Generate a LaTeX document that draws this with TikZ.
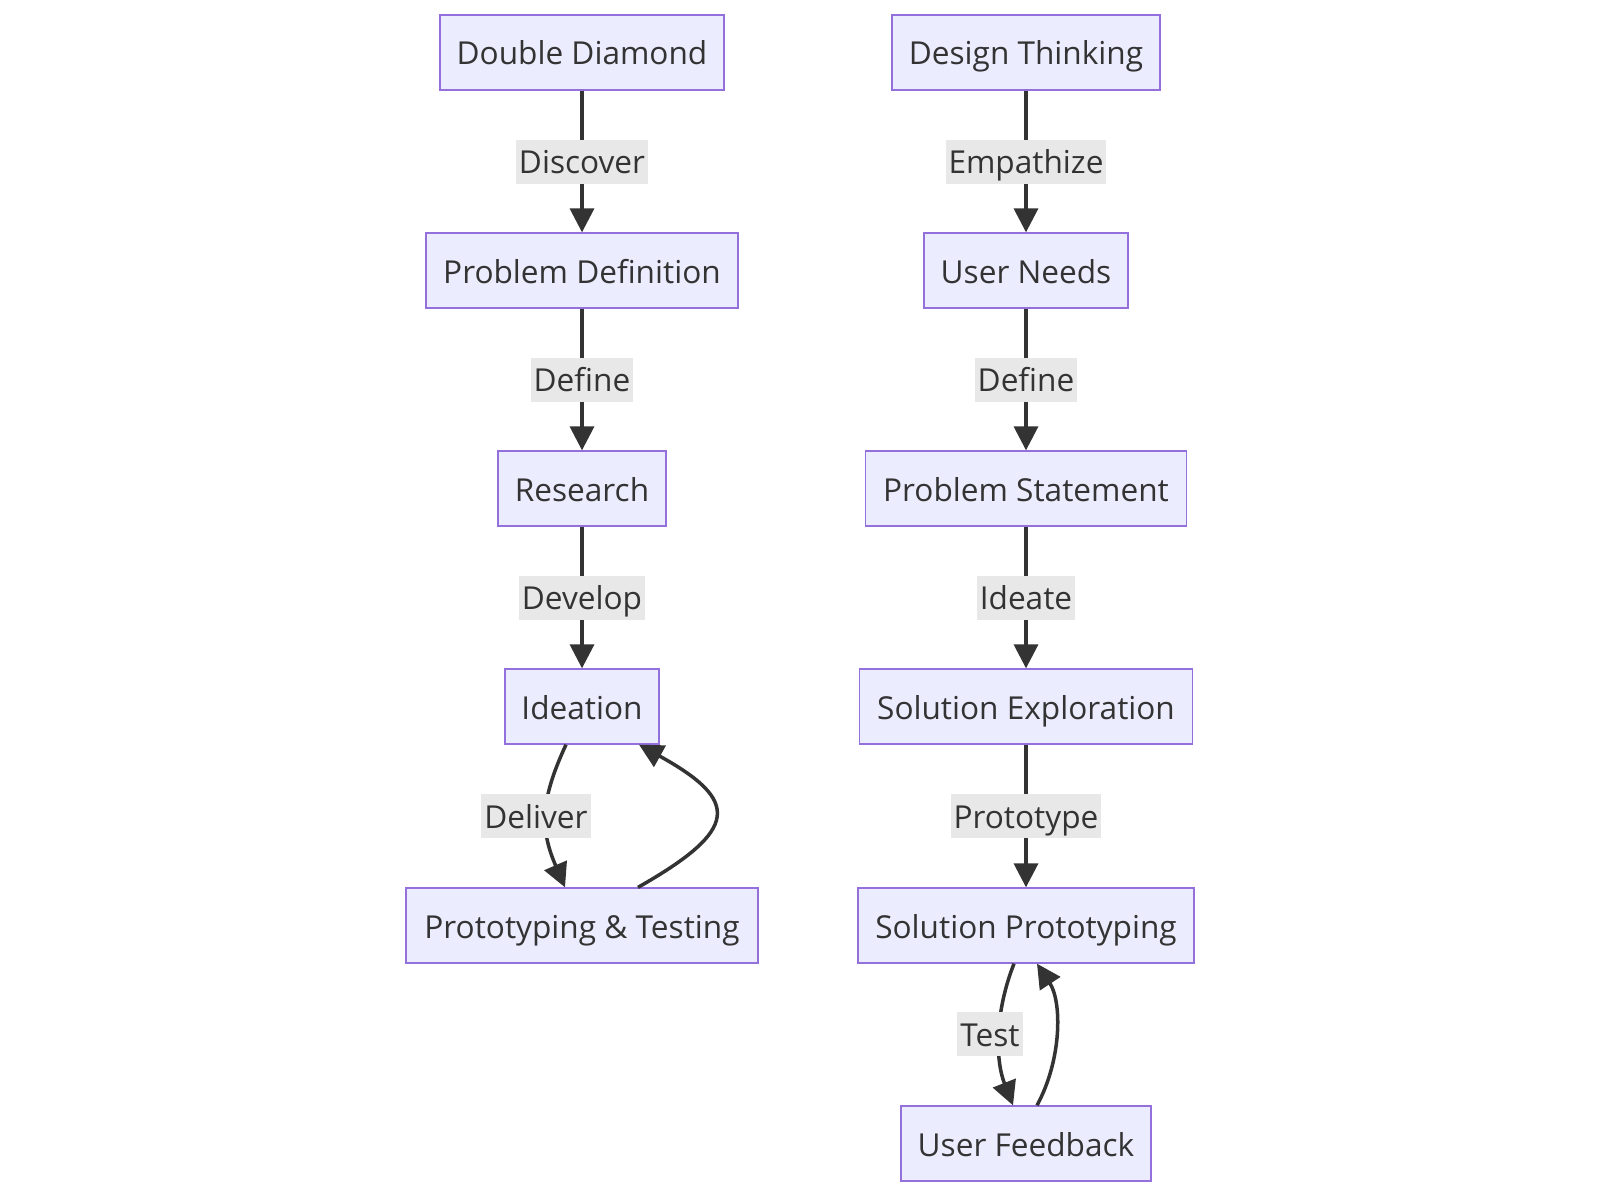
\documentclass[tikz,border=0pt]{standalone}
\usepackage{fontspec}
\setmainfont{Open Sans}
\usetikzlibrary{arrows.meta}
\definecolor{boxfill}{HTML}{ECECFF}
\definecolor{boxdraw}{HTML}{9370DB}
\definecolor{ink}{HTML}{333333}
\definecolor{lblfill}{HTML}{E8E8E8}
\tikzset{
  box/.style={draw=boxdraw, fill=boxfill, line width=1.3pt, text=ink,
    font=\fontsize{31.6}{38}\selectfont, inner xsep=16pt, inner ysep=15.5pt,
    text height=34.5pt, text depth=9.5pt},
  lbl/.style={fill=lblfill, text=ink, font=\fontsize{31.6}{38}\selectfont,
    inner xsep=3pt, inner ysep=0pt, text height=34pt, text depth=10pt},
  edge/.style={draw=ink, line width=3.5pt,
    -{Triangle[length=24pt,width=24pt]}}
}
\begin{document}
\begin{tikzpicture}[x=1pt,y=-1pt]
\useasboundingbox (0,0) rectangle (1600,1196);
% left column
\node[box, minimum width=284pt] (dd) at (582,52.5) {Double Diamond};
\node[box, minimum width=312pt] (pd) at (582,270.5) {Problem Definition};
\node[box, minimum width=168pt] (rs) at (582,488.5) {Research};
\node[box, minimum width=154pt] (id) at (582,706.5) {Ideation};
\node[box, minimum width=352pt] (pt) at (582,925.5) {Prototyping \& Testing};
% right column
\node[box, minimum width=268pt] (dt) at (1026,52.5) {Design Thinking};
\node[box, minimum width=204pt] (un) at (1026,270.5) {User Needs};
\node[box, minimum width=321pt] (ps) at (1026,488.5) {Problem Statement};
\node[box, minimum width=333pt] (se) at (1026,706.5) {Solution Exploration};
\node[box, minimum width=336pt] (sp) at (1026,925.5) {Solution Prototyping};
\node[box, minimum width=250pt] (uf) at (1026,1143.5) {User Feedback};
% straight edges
\draw[edge] (dd) -- node[lbl]{Discover} (pd);
\draw[edge] (pd) -- node[lbl]{Define} (rs);
\draw[edge] (rs) -- node[lbl]{Develop} (id);
\draw[edge] (dt) -- node[lbl]{Empathize} (un);
\draw[edge] (un) -- node[lbl]{Define} (ps);
\draw[edge] (ps) -- node[lbl]{Ideate} (se);
\draw[edge] (se) -- node[lbl]{Prototype} (sp);
% curved edges
\draw[edge] ([xshift=-16pt]id.south) .. controls +(-26,56) and +(-25,-58) .. ([xshift=-17pt]pt.north);
\draw[edge] ([xshift=56pt]pt.north) .. controls +(102,-58) and +(101,56) .. ([xshift=57pt]id.south);
\draw[edge] ([xshift=-12pt]sp.south) .. controls +(-19,48) and +(-18,-46) .. ([xshift=-13pt]uf.north);
\draw[edge] ([xshift=11pt]uf.north) .. controls +(25,-46) and +(25,38) .. ([xshift=11pt]sp.south);
\node[lbl] (ldeliver) at (536,816) {Deliver};
\node[lbl] (ltest) at (990,1034) {Test};
\end{tikzpicture}
\end{document}
